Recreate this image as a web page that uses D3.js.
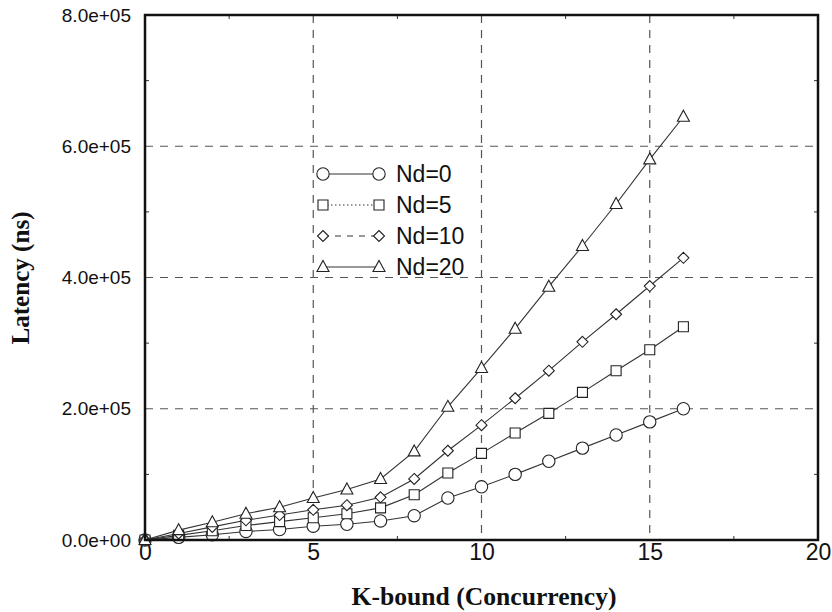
<!DOCTYPE html>
<html>
<head>
<meta charset="utf-8">
<script src="https://cdn.jsdelivr.net/npm/d3@7"></script>
<style>
  body { margin: 0; background: #fff; }
</style>
</head>
<body>
<svg id="chart" width="832" height="612"></svg>
<script>
// K-bound values on the x axis
const kValues = [0, 1, 2, 3, 4, 5, 6, 7, 8, 9, 10, 11, 12, 13, 14, 15, 16];

// latency (ns) per series
const nd0 = [0, 4000, 8000, 13000, 16000, 21000, 24000, 29000, 37000, 64000, 81000, 100000, 120000, 140000, 160000, 180000, 200000];
const nd5 = [0, 7000, 14000, 22000, 28000, 34000, 40000, 49000, 69000, 102000, 132000, 163000, 193000, 225000, 258000, 290000, 325000];
const nd10 = [0, 10000, 20000, 30000, 38000, 46000, 53000, 65000, 93000, 136000, 175000, 216000, 258000, 302000, 344000, 387000, 430000];
const nd20 = [0, 15000, 27000, 40000, 50000, 64000, 77000, 93000, 135000, 203000, 262000, 322000, 386000, 448000, 512000, 580000, 645000];

const seriesNames = ["Nd=0", "Nd=5", "Nd=10", "Nd=20"];
const seriesValues = [nd0, nd5, nd10, nd20];
const markerShapes = ["circle", "square", "diamond", "triangle"];
const legendDash = [null, "1.5,2.5", "6,6", null];

const xTicks = [0, 5, 10, 15, 20];
const yTicks = [0, 200000, 400000, 600000, 800000];

const svg = d3.select("#chart");
const margin = { left: 145, top: 15, right: 14, bottom: 72 };
const width = 832 - margin.left - margin.right;
const height = 612 - margin.top - margin.bottom;

const x = d3.scaleLinear().domain([0, 20]).range([0, width]);
const y = d3.scaleLinear().domain([0, 800000]).range([height, 0]);

const g = svg.append("g").attr("transform", `translate(${margin.left},${margin.top})`);

// grid lines (dashed) at inner ticks
g.append("g")
  .selectAll("line")
  .data(xTicks.filter(d => d > 0 && d < 20))
  .enter().append("line")
  .attr("x1", d => x(d)).attr("x2", d => x(d))
  .attr("y1", 0).attr("y2", height)
  .attr("stroke", "#555").attr("stroke-width", 1.2).attr("stroke-dasharray", "8,7");

g.append("g")
  .selectAll("line")
  .data(yTicks.filter(d => d > 0 && d < 800000))
  .enter().append("line")
  .attr("x1", 0).attr("x2", width)
  .attr("y1", d => y(d)).attr("y2", d => y(d))
  .attr("stroke", "#555").attr("stroke-width", 1.2).attr("stroke-dasharray", "8,7");

// inward minor ticks on all four sides
const xMinor = d3.range(2.5, 20, 5);
const yMinor = d3.range(100000, 800000, 200000);
const ticksG = g.append("g").attr("stroke", "#333").attr("stroke-width", 1);
xMinor.forEach(v => {
  ticksG.append("line").attr("x1", x(v)).attr("x2", x(v)).attr("y1", height).attr("y2", height - 4);
  ticksG.append("line").attr("x1", x(v)).attr("x2", x(v)).attr("y1", 0).attr("y2", 4);
});
yMinor.forEach(v => {
  ticksG.append("line").attr("x1", 0).attr("x2", 4).attr("y1", y(v)).attr("y2", y(v));
  ticksG.append("line").attr("x1", width).attr("x2", width - 4).attr("y1", y(v)).attr("y2", y(v));
});

// axes: labels only, the frame draws the lines
const xAxis = g.append("g")
  .attr("transform", `translate(0,${height})`)
  .call(d3.axisBottom(x).tickValues(xTicks).tickSize(0).tickPadding(4));
xAxis.select(".domain").remove();
xAxis.selectAll("text")
  .attr("font-family", "Liberation Sans, Arial, sans-serif")
  .attr("font-size", 23).attr("fill", "#111");

const yAxis = g.append("g")
  .call(d3.axisLeft(y).tickValues(yTicks).tickSize(0).tickPadding(14)
    .tickFormat(d => d3.format(".1e")(d).replace(/e([+-])(\d)$/, "e$10$2")));
yAxis.select(".domain").remove();
yAxis.selectAll("text")
  .attr("font-family", "Liberation Sans, Arial, sans-serif")
  .attr("font-size", 19).attr("fill", "#111");

// marker drawing
function drawMarker(sel, shape, cx, cy) {
  const mk = sel.append("path")
    .attr("fill", "white").attr("stroke", "#222").attr("stroke-width", 1.1)
    .attr("transform", `translate(${cx},${cy})`);
  if (shape === "circle") {
    mk.attr("d", d3.symbol(d3.symbolCircle, 120)());
  } else if (shape === "square") {
    mk.attr("d", "M-5,-5H5V5H-5Z");
  } else if (shape === "diamond") {
    mk.attr("d", "M0,-5.5L5.5,0L0,5.5L-5.5,0Z");
  } else {
    mk.attr("d", "M0,-6.5L6,4.5H-6Z");
  }
  return mk;
}

// series lines and markers
const line = d3.line().x((d, i) => x(kValues[i])).y(d => y(d));
seriesValues.forEach((vals, si) => {
  g.append("path")
    .datum(vals)
    .attr("d", line)
    .attr("fill", "none")
    .attr("stroke", "#333")
    .attr("stroke-width", 1.1);
});
seriesValues.forEach((vals, si) => {
  const mg = g.append("g");
  vals.forEach((v, i) => drawMarker(mg, markerShapes[si], x(kValues[i]), y(v)));
});

// frame
g.append("rect")
  .attr("x", 0).attr("y", 0).attr("width", width).attr("height", height)
  .attr("fill", "none").attr("stroke", "#111").attr("stroke-width", 2.5);

// legend
const legend = svg.append("g").attr("transform", "translate(323,174)");
seriesNames.forEach((name, i) => {
  const row = legend.append("g").attr("transform", `translate(0,${i * 31})`);
  row.append("line")
    .attr("x1", 0).attr("x2", 56).attr("y1", 0).attr("y2", 0)
    .attr("stroke", "#333").attr("stroke-width", 1.1)
    .attr("stroke-dasharray", legendDash[i]);
  drawMarker(row, markerShapes[i], 0, 0);
  drawMarker(row, markerShapes[i], 56, 0);
  row.append("text")
    .attr("x", 73).attr("y", 0).attr("dy", "0.36em")
    .attr("font-family", "Liberation Sans, Arial, sans-serif")
    .attr("font-size", 23).attr("fill", "#111")
    .text(name);
});

// axis titles
svg.append("text")
  .attr("x", 484).attr("y", 605)
  .attr("text-anchor", "middle")
  .attr("font-family", "Liberation Serif, Times New Roman, serif")
  .attr("font-weight", "bold").attr("font-size", 26).attr("fill", "#111")
  .attr("textLength", 265).attr("lengthAdjust", "spacingAndGlyphs")
  .text("K-bound (Concurrency)");

svg.append("text")
  .attr("transform", "translate(29,278) rotate(-90)")
  .attr("text-anchor", "middle")
  .attr("font-family", "Liberation Serif, Times New Roman, serif")
  .attr("font-weight", "bold").attr("font-size", 26).attr("fill", "#111")
  .attr("textLength", 133).attr("lengthAdjust", "spacingAndGlyphs")
  .text("Latency (ns)");
</script>
</body>
</html>
